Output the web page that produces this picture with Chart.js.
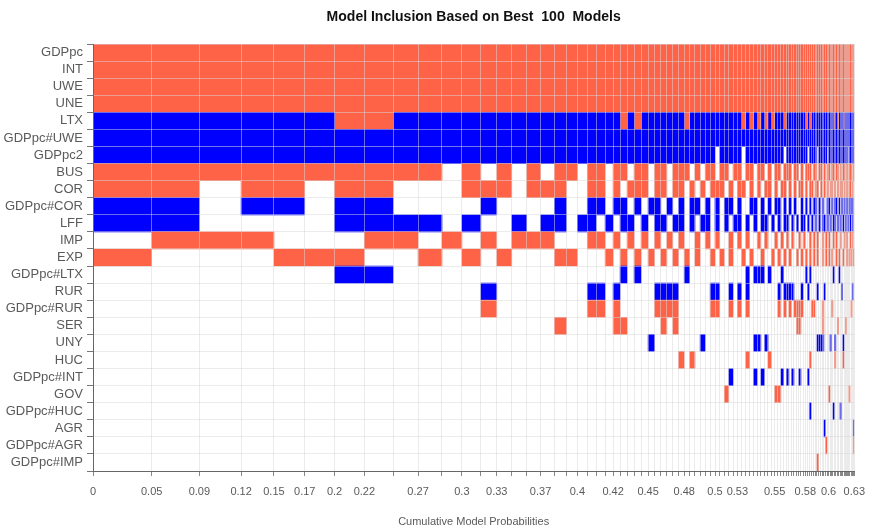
<!DOCTYPE html>
<html>
<head>
<meta charset="utf-8">
<script src="https://cdn.jsdelivr.net/npm/chart.js@4.4.1/dist/chart.umd.min.js"></script>
<style>
html, body { margin: 0; padding: 0; background: #fff; }
</style>
</head>
<body>
<canvas id="chart" width="874" height="529"></canvas>
<script>
const chartTitle = 'Model Inclusion Based on Best  100  Models'

const variables = ['GDPpc', 'INT', 'UWE', 'UNE', 'LTX', 'GDPpc#UWE', 'GDPpc2', 'BUS', 'COR',
  'GDPpc#COR', 'LFF', 'IMP', 'EXP', 'GDPpc#LTX', 'RUR', 'GDPpc#RUR', 'SER', 'UNY', 'HUC',
  'GDPpc#INT', 'GOV', 'GDPpc#HUC', 'AGR', 'GDPpc#AGR', 'GDPpc#IMP']

// posterior model probabilities of the best 100 models (bar widths)
const modelProbs = [
  0.0486, 0.0395, 0.0346, 0.0272, 0.0255, 0.0247, 0.0247, 0.0239, 0.0206, 0.0198,
  0.0165, 0.0157, 0.0132, 0.0124, 0.0124, 0.0115, 0.0115, 0.0099, 0.0091, 0.0082,
  0.0074, 0.0074, 0.0066, 0.0058, 0.0058, 0.0058, 0.0058, 0.0058, 0.0053, 0.0052,
  0.0050, 0.0049, 0.0048, 0.0047, 0.0045, 0.0044, 0.0043, 0.0042, 0.0041, 0.0040,
  0.0039, 0.0038, 0.0037, 0.0036, 0.0035, 0.0035, 0.0034, 0.0033, 0.0032, 0.0031,
  0.0030, 0.0030, 0.0029, 0.0028, 0.0027, 0.0026, 0.0026, 0.0023, 0.0022, 0.0021,
  0.0021, 0.0021, 0.0020, 0.0019, 0.0019, 0.0018, 0.0018, 0.0017, 0.0016, 0.0016,
  0.0016, 0.0016, 0.0015, 0.0015, 0.0015, 0.0014, 0.0014, 0.0013, 0.0013, 0.0013,
  0.0012, 0.0012, 0.0012, 0.0012, 0.0012, 0.0012, 0.0012, 0.0011, 0.0011, 0.0011,
  0.0011, 0.0010, 0.0010, 0.0010, 0.0010, 0.0009, 0.0009, 0.0009, 0.0009, 0.0009
]

// inclusion per variable, one char per model: + positive, - negative, . not included
const signs = [
  '++++++++++ ++++++++++ ++++++++++ ++++++++++ ++++++++++ ++++++++++ ++++++++++ ++++++++++ ++++++++++ ++++++++++',
  '++++++++++ ++++++++++ ++++++++++ ++++++++++ ++++++++++ ++++++++++ ++++++++++ ++++++++++ ++++++++++ ++++++++++',
  '++++++++++ ++++++++++ ++++++++++ ++++++++++ ++++++++++ ++++++++++ ++++++++++ ++++++++++ ++++++++++ ++++++++++',
  '++++++++++ ++++++++++ ++++++++++ ++++++++++ ++++++++++ ++++++++++ ++++++++++ ++++++++++ ++++++++++ ++++++++++',
  '------++-- ---------- ----+-+--- ----+----- ------+-+- +-+-+---+- -------+-+ ---------- ---+--+--- +---------',
  '---------- ---------- ---------- ---------- ---------- ---------- ---------- ---------- ---------- ----------',
  '---------- ---------- ---------- ---------- .-----.--- --------.- --------.- ---.-----. ---------- ----.-----',
  '++++++++++ .+.+.+.++. ++.++.++.+ +.+++.+.++ .++.++.++. ++.+.++.++ +.++.+.+++ .++.++.+.+ +.++.++.+. ++.+.+++.+',
  '++.++.++.. .+++.+++.. ++.+.+++.+ +.++.+.+.+ ++.+.++.+. +.++.+.++. +.+.++.+.+ +.++.+.+.+ .++.+.+.++ .+.+.++.+.',
  '--.--.--.. ..-....-.. --.--.-.-- .-.-.--.-. -.--.-..-- .-.-.--.-. -.-..-.-.- .--.-.-..- -.-.--.-.- .-.-.-.--.',
  '--....---- .-..-.--.- -.-.--.-.- -.--.-.--. -.-.--.-.- .--.-.-.-- .-.-.--.-. -.-.-.--.- .-.--.-.-. -.-.-.-.-.',
  '.+++...++. +.+.+++... ++.+.+.+.+ .+.+..+.+. +..+.+.+.. +.+..+.+.+ .+..+.+..+ .+.+..+.+. +..+.+..+. .+.+..+.+.',
  '+...+++..+ .+.+...++. ..+.+.+.+. +.+.+.+..+ .+.+..+.+. .+..+.+.+. +..+.+.+.+ .+.+..+.+. +.+..+.+.. +..+.+.+.+',
  '......--.. .......... ....-.-... ....-..... .......-.- --.-...-.. .......-.- .......... ...-...-.. ..........',
  '.......... ..-....... --.-.....- ---......- -..-.-.-.. ......-.-- --...-..-. ...-...-.. .........- ........-.',
  '.......... ..+....... ++.+.....+ +++......+ +..+.+.+.. ......+.+. +.++++.... ++....+... ..+....... .......+..',
  '.......... .......+.. ...++..... +.+....... .......... .......... ...++..... ......+... ......+... ..+.......',
  '.......... .......... ........-. .......-.. .........- -.-....... .......... ...----... .-..-..... -.........',
  '.......... .......... .......... ...+.+.... .......+.. ...+...... .........+ .......... ....+..... +.........',
  '.......... .......... .......... .......... ...-.....- .-.....-.- .-..-...-. .......... .......... ..........',
  '.......... .......... .......... .......... ..+....... .....++... .......... .......... +......... .....+....',
  '.......... .......... .......... .......... .......... .......... .........- .......... ...-....-. ..........',
  '.......... .......... .......... .......... .......... .......... .......... .......-.. .......... .........-',
  '.......... .......... .......... .......... .......... .......... .......... ........+. .......... .........+',
  '.......... .......... .......... .......... .......... .......... .......... ...+...... .......... ..........'
]

// x-axis labels and the model boundary each one sits on
const tickLabels = ['0', '0.05', '0.09', '0.12', '0.15', '0.17', '0.2', '0.22', '0.27', '0.3', '0.33',
  '0.37', '0.4', '0.42', '0.45', '0.48', '0.5', '0.53', '0.55', '0.58', '0.6', '0.63']
const tickModels = [0, 1, 2, 3, 4, 5, 6, 7, 9, 11, 13, 16, 19, 23, 28, 34, 40, 45, 55, 67, 80, 100]

const posColor = '#FF6347' // tomato
const negColor = '#0000FF'
const gridColor = 'rgba(215,215,215,0.5)'
const textColor = '#5a5a5a'
const fontFamily = '"Liberation Sans", Arial, sans-serif'

// cumulative boundaries
const cum = [0]
modelProbs.forEach(p => cum.push(cum[cum.length - 1] + p))
const rows = signs.map(s => s.replace(/ /g, ''))
const labelAt = {}
tickModels.forEach((m, i) => { labelAt[m] = tickLabels[i] })

const datasets = modelProbs.map((p, m) => ({
  label: 'Model ' + (m + 1),
  data: rows.map(r => r[m] === '.' ? null : [cum[m], cum[m + 1]]),
  backgroundColor: rows.map(r => r[m] === '-' ? negColor : posColor),
  borderWidth: 0,
  barPercentage: 1,
  categoryPercentage: 1,
  grouped: false
}))

//title centred over the plot area, like R does
const plotTitle = {
  id: 'plotTitle',
  afterDraw(chart) {
    const {ctx, chartArea} = chart
    ctx.save()
    ctx.font = 'bold 14px ' + fontFamily
    ctx.fillStyle = '#111'
    ctx.textAlign = 'center'
    ctx.textBaseline = 'middle'
    ctx.fillText(chartTitle, (chartArea.left + chartArea.right) / 2, 17)
    ctx.restore()
  }
}

const ctx = document.getElementById('chart').getContext('2d')
const chart = new Chart(ctx, {
  type: 'bar',
  data: { labels: variables, datasets: datasets },
  options: {
    indexAxis: 'y',
    responsive: false,
    animation: false,
    layout: { padding: { top: 44, right: 16, bottom: 0, left: 0 } },
    plugins: {
      legend: { display: false },
      tooltip: { enabled: false }
    },
    scales: {
      x: {
        type: 'linear',
        min: 0,
        max: cum[cum.length - 1],
        afterBuildTicks(scale) { scale.ticks = cum.map(v => ({ value: v })) },
        afterFit(scale) { scale.height = 58 },
        ticks: {
          autoSkip: false,
          maxRotation: 0,
          padding: 9,
          color: textColor,
          font: { size: 11, family: fontFamily },
          callback: (v, i) => (labelAt[i] !== undefined ? labelAt[i] : '')
        },
        // grid drawn over the bars, border after the grid
        grid: { color: gridColor, z: 1, tickLength: 5, tickColor: '#888' },
        border: { color: '#666', z: 2 },
        title: {
          display: true,
          text: 'Cumulative Model Probabilities',
          color: textColor,
          font: { size: 11, family: fontFamily },
          padding: { top: 0, bottom: 0 }
        }
      },
      y: {
        type: 'category',
        offset: true,
        afterFit(scale) { scale.width = 93 },
        ticks: {
          autoSkip: false,
          padding: 4,
          color: textColor,
          font: { size: 13, family: fontFamily }
        },
        grid: { offset: true, color: gridColor, z: 1, tickLength: 6, tickColor: '#777' },
        border: { color: '#666', z: 2 }
      }
    }
  },
  plugins: [plotTitle]
})
</script>
</body>
</html>
